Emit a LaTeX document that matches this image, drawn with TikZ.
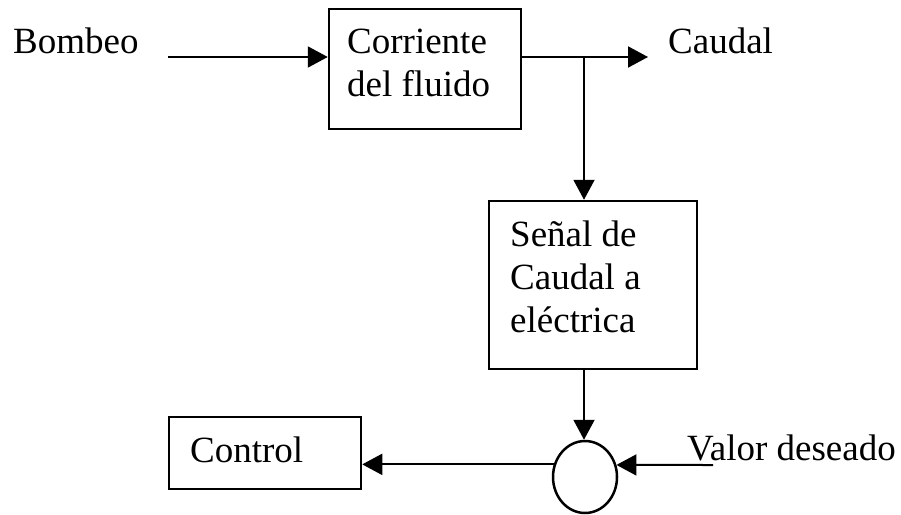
\documentclass[tikz,border=0pt]{standalone}
\usepackage{fontspec}
\setmainfont{Liberation Serif}
\usetikzlibrary{arrows.meta,shapes.geometric}
\begin{document}
\begin{tikzpicture}[x=1pt,y=-1pt,
  box/.style={draw,line width=2.5pt,minimum width=#1,inner sep=0pt},
  txt/.style={font=\fontsize{37}{43}\selectfont,inner sep=0pt,anchor=base west,align=left},
  arr/.style={line width=2pt,-{Triangle[length=20pt,width=21pt]}},
  ln/.style={line width=2pt}]
\useasboundingbox (0,0) rectangle (901,514);
% boxes
\node[box=192pt,minimum height=120pt] (box1) at (425,69) {};
\node[box=208pt,minimum height=168pt] (box2) at (593,285) {};
\node[box=192pt,minimum height=72pt] (ctrl) at (265,453) {};
\node[draw,line width=2.5pt,ellipse,minimum width=64pt,minimum height=72pt,inner sep=0pt] (sum) at (585,477) {};
% texts
\node[txt] (tb) at (13,53) {Bombeo};
\node[txt] (t1) at (347,96) {Corriente\\del fluido};
\node[txt] (tc) at (668,53) {Caudal};
\node[txt] (t2) at (510,332) {Señal de\\Caudal a\\eléctrica};
\node[txt] (t3) at (190,462) {Control};
\node[txt] (tv) at (687,460) {Valor deseado};
% connectors
\coordinate (b0) at (168,57);
\coordinate (j) at (584,57);
\coordinate (out) at (648,57);
\coordinate (v) at (713,465);
\draw[arr] (b0) -- (b0 -| box1.west);
\draw[arr] (j -| box1.east) -- (out);
\draw[arr] (j) -- (j |- box2.north);
\draw[arr] (j |- box2.south) -- (j |- sum.north);
\draw[arr] (sum.158.3) -- (sum.158.3 -| ctrl.east);
\draw[arr] (v) -- (sum.21.7);
\end{tikzpicture}
\end{document}
